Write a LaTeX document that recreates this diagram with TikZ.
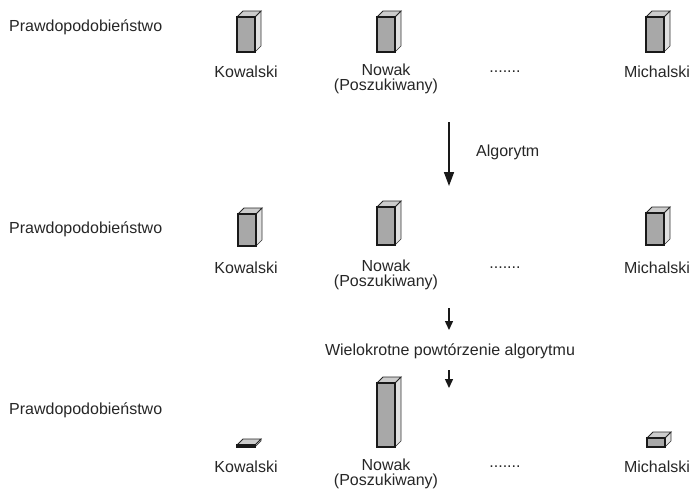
\documentclass[tikz,border=0pt]{standalone}
\usepackage{fontspec}
\setmainfont{Liberation Sans}
\usetikzlibrary{arrows.meta}

% one bar: x of front face, y of bottom, height
\newcommand{\slupek}[3]{%
  \filldraw[fill=black!12, draw=black!80, line width=0.6pt]
    (#1+18,#2-#3) -- ++(6,-6) -- (#1+24,#2-6) -- (#1+18,#2) -- cycle;
  \filldraw[fill=black!20, draw=black!85, line width=0.9pt]
    (#1,#2-#3) -- ++(6,-6) -- ++(18,0) -- ++(-6,6) -- cycle;
  \filldraw[fill=black!34, draw=black!90, line width=1.2pt]
    (#1,#2-#3) rectangle (#1+18,#2);
}

\begin{document}
\begin{tikzpicture}[x=1pt, y=-1pt,
    every node/.style={font=\fontsize{16}{14.5}\selectfont, text=black!85, inner sep=0pt},
    dwie/.style={align=center},
    strzalka/.style={draw=black!90, line width=1.6pt, -{Triangle[length=14pt,width=10pt]}},
    strzalkamala/.style={draw=black!90, line width=1.4pt, -{Triangle[length=9pt,width=8pt]}}]
  \useasboundingbox (0,0) rectangle (690,498);

  % First row
  \node[anchor=west] (praw1) at (9,27) {Prawdopodobieństwo};
  \slupek{237}{52}{35}
  \slupek{377}{52}{35}
  \slupek{646}{52}{35}
  \node (kow1) at (246,72) {Kowalski};
  \node[dwie] (now1) at (386,79) {Nowak\\(Poszukiwany)};
  \node (kro1) at (505,72) {.......};
  \node (mic1) at (657,72) {Michalski};

  % Algorithm step
  \coordinate (alg1) at (449,122);
  \coordinate (alg2) at (449,186);
  \draw[strzalka] (alg1) -- (alg2);
  \node[anchor=west] (alg) at (476,152) {Algorytm};

  % Second row
  \node[anchor=west] (praw2) at (9,229) {Prawdopodobieństwo};
  \slupek{238}{246}{32}
  \slupek{377}{245}{38}
  \slupek{646}{245}{32}
  \node (kow2) at (246,268) {Kowalski};
  \node[dwie] (now2) at (386,275) {Nowak\\(Poszukiwany)};
  \node (kro2) at (505,268) {.......};
  \node (mic2) at (657,268) {Michalski};

  % Repeated steps
  \coordinate (pow1) at (449,308);
  \coordinate (pow2) at (449,330);
  \draw[strzalkamala] (pow1) -- (pow2);
  \node (pow) at (450,351) {Wielokrotne powtórzenie algorytmu};
  \coordinate (pow3) at (449,370);
  \coordinate (pow4) at (449,388);
  \draw[strzalkamala] (pow3) -- (pow4);

  % Third row
  \node[anchor=west] (praw3) at (9,410) {Prawdopodobieństwo};
  \slupek{237}{447}{2}
  \slupek{377}{447}{64}
  \slupek{647}{447}{9}
  \node (kow3) at (246,467) {Kowalski};
  \node[dwie] (now3) at (386,474) {Nowak\\(Poszukiwany)};
  \node (kro3) at (505,467) {.......};
  \node (mic3) at (657,467) {Michalski};
\end{tikzpicture}
\end{document}
